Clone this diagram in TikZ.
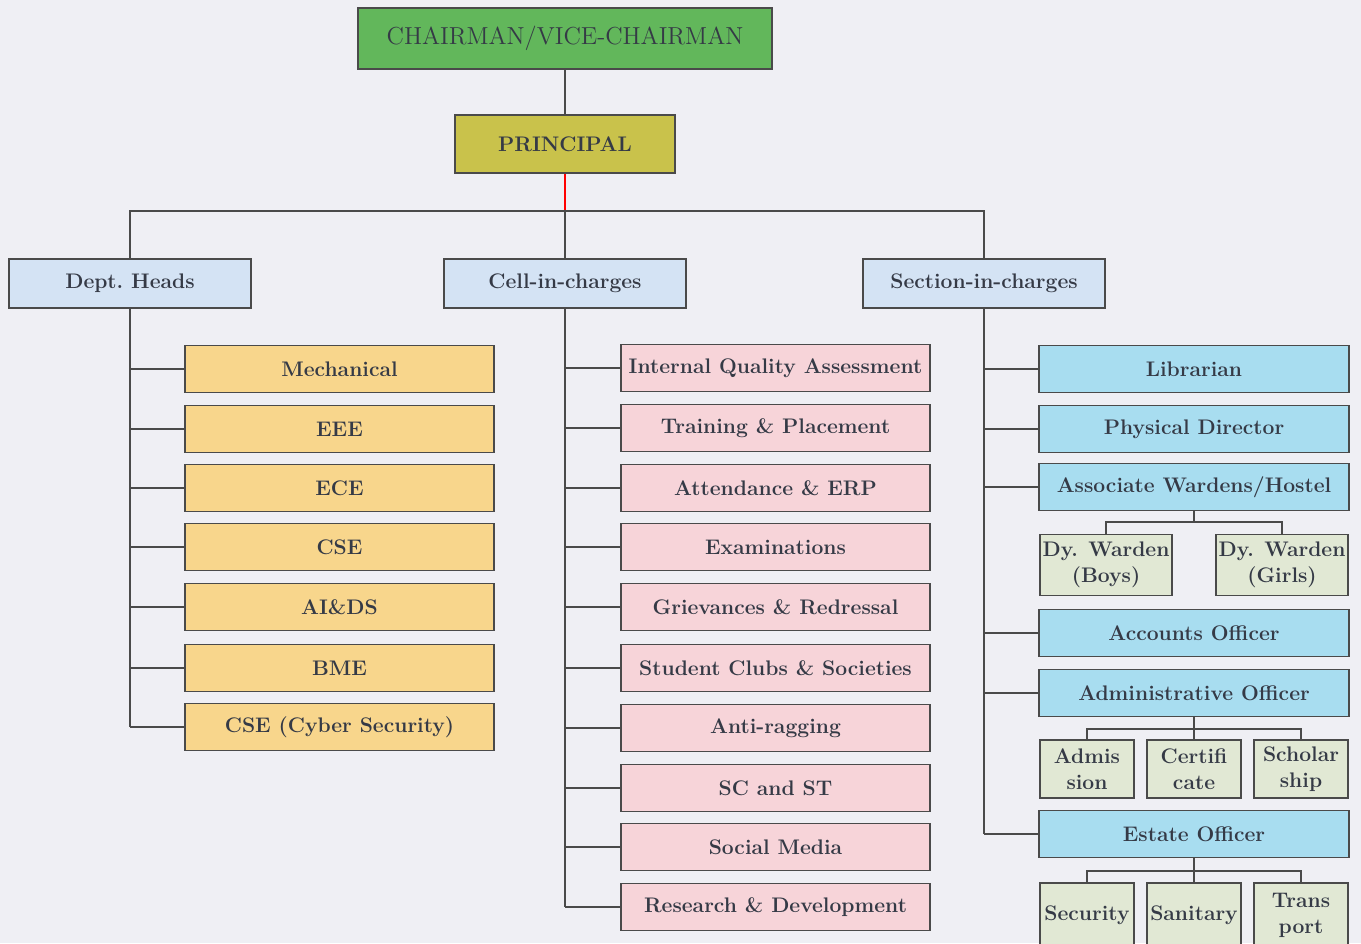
\documentclass[tikz,border=0pt]{standalone}
\usepackage{xcolor}
\definecolor{bgc}{HTML}{EFEFF4}
\definecolor{boxline}{HTML}{4A4A4A}
\definecolor{txt}{HTML}{353A46}
\definecolor{chairc}{HTML}{62B75B}
\definecolor{princc}{HTML}{C9C24B}
\definecolor{headc}{HTML}{D4E3F4}
\definecolor{deptc}{HTML}{F8D68C}
\definecolor{cellc}{HTML}{F7D4D9}
\definecolor{sectc}{HTML}{A8DDF0}
\definecolor{subc}{HTML}{E1E8D4}

\begin{document}
\begin{tikzpicture}[x=0.02cm, y=-0.02cm, line width=0.8pt, draw=boxline,
  every node/.style={draw=boxline, line width=0.8pt, text=txt, inner sep=1pt,
    font=\bfseries\fontsize{12}{14.5}\selectfont, align=center},
  top/.style={fill=chairc, minimum width=8.28cm, minimum height=1.22cm,
    font=\mdseries\fontsize{14}{16}\selectfont},
  princ/.style={fill=princc, minimum width=4.4cm, minimum height=1.16cm},
  head/.style={fill=headc, minimum width=4.84cm, minimum height=0.98cm},
  dept/.style={fill=deptc, minimum width=6.18cm, minimum height=0.94cm},
  cell/.style={fill=cellc, minimum width=6.18cm, minimum height=0.94cm},
  sect/.style={fill=sectc, minimum width=6.2cm, minimum height=0.94cm},
  warden/.style={fill=subc, minimum width=2.64cm, minimum height=1.22cm},
  small/.style={fill=subc, minimum width=1.88cm, minimum height=1.16cm}]
\fill[bgc] (0,0) rectangle (1361,943);
\useasboundingbox (0,0) rectangle (1361,943);

% top of the chart
\node[top] (cv) at (565,38.5) {CHAIRMAN/VICE-CHAIRMAN};
\node[princ] (pr) at (565,144) {PRINCIPAL};
\node[head] (dh) at (130,283.5) {Dept.\ Heads};
\node[head] (ch) at (565,283.5) {Cell-in-charges};
\node[head] (sh) at (984,283.5) {Section-in-charges};
\coordinate (bus) at (565,211);

\draw (cv.south) -- (pr.north);
\draw[red] (pr.south) -- (bus);
\draw (dh.north) |- (bus) -| (sh.north);
\draw (bus) -- (ch.north);

% departments
\node[dept] (d1) at (339.5,369) {Mechanical};
\node[dept] (d2) at (339.5,429) {EEE};
\node[dept] (d3) at (339.5,488) {ECE};
\node[dept] (d4) at (339.5,547) {CSE};
\node[dept] (d5) at (339.5,607) {AI\&DS};
\node[dept] (d6) at (339.5,668) {BME};
\node[dept] (d7) at (339.5,727) {CSE (Cyber Security)};
\draw (dh.south) -- (dh.south |- d7);
\foreach \i in {1,...,7}
  \draw (dh.south |- d\i) -- (d\i.west);

% cells
\node[cell] (c1) at (775.5,368) {Internal Quality Assessment};
\node[cell] (c2) at (775.5,428) {Training \& Placement};
\node[cell] (c3) at (775.5,488) {Attendance \& ERP};
\node[cell] (c4) at (775.5,547) {Examinations};
\node[cell] (c5) at (775.5,607) {Grievances \& Redressal};
\node[cell] (c6) at (775.5,668) {Student Clubs \& Societies};
\node[cell] (c7) at (775.5,728) {Anti-ragging};
\node[cell] (c8) at (775.5,788) {SC and ST};
\node[cell] (c9) at (775.5,847) {Social Media};
\node[cell] (c10) at (775.5,907) {Research \& Development};
\draw (ch.south) -- (ch.south |- c10);
\foreach \i in {1,...,10}
  \draw (ch.south |- c\i) -- (c\i.west);

% sections
\node[sect] (lib) at (1194,369) {Librarian};
\node[sect] (pd) at (1194,429) {Physical Director};
\node[sect] (aw) at (1194,487) {Associate Wardens/Hostel};
\node[warden] (dwb) at (1106,565) {Dy. Warden\\(Boys)};
\node[warden] (dwg) at (1282,565) {Dy. Warden\\(Girls)};
\node[sect] (ao) at (1194,633) {Accounts Officer};
\node[sect] (ad) at (1194,693) {Administrative Officer};
\node[small] (adm) at (1087,769) {Admis\\sion};
\node[small] (cer) at (1194,769) {Certifi\\cate};
\node[small] (sch) at (1301,769) {Scholar\\ship};
\node[sect] (eo) at (1194,834) {Estate Officer};
\node[small, minimum height=1.3cm] (sec) at (1087,915.5) {Security};
\node[small, minimum height=1.3cm] (san) at (1194,915.5) {Sanitary};
\node[small, minimum height=1.3cm] (tra) at (1301,915.5) {Trans\\port};
\coordinate (awj) at (1194,522);
\coordinate (adj) at (1194,729);
\coordinate (eoj) at (1194,871);

\draw (sh.south) -- (sh.south |- eo);
\foreach \n in {lib,pd,aw,ao,ad,eo}
  \draw (sh.south |- \n) -- (\n.west);
\draw (aw.south) -- (awj);
\draw (dwb.north) |- (awj) -| (dwg.north);
\draw (ad.south) -- (adj) -- (cer.north);
\draw (adm.north) |- (adj) -| (sch.north);
\draw (eo.south) -- (eoj) -- (san.north);
\draw (sec.north) |- (eoj) -| (tra.north);
\end{tikzpicture}
\end{document}
